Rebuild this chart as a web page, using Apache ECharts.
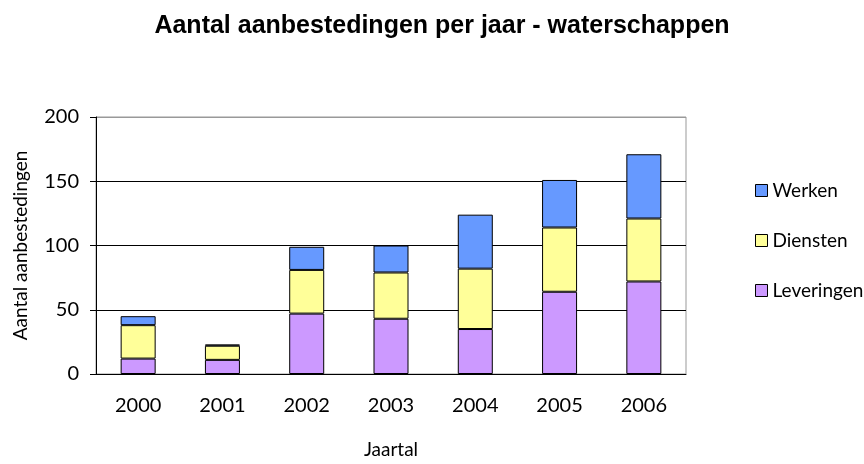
<!DOCTYPE html>
<html>
<head>
<meta charset="utf-8">
<script src="https://cdn.jsdelivr.net/npm/echarts@6/dist/echarts.min.js"></script>
<style>
  html, body { margin: 0; padding: 0; background: #fff; }
  #chart { width: 864px; height: 464px; }
</style>
</head>
<body>
<div id="chart"></div>
<script>
const years = ['2000', '2001', '2002', '2003', '2004', '2005', '2006']
const leveringen = [12, 11, 47, 43, 35, 64, 72]
const diensten = [26, 11, 34, 36, 47, 50, 49]
const werken = [7, 1, 18, 21, 42, 37, 50]
const yTicks = [0, 50, 100, 150, 200]

const FONT = 'Lato'

var chart = echarts.init(document.getElementById('chart'))

function barSeries(name, data, color){
    return {
        name: name,
        type: 'bar',
        stack: 'totaal',
        data: data,
        barWidth: 35,
        itemStyle: { color: color, borderColor: '#000', borderWidth: 1 },
        emphasis: { disabled: true }
    }
}

const option = {
    animation: false,
    title: {
        text: 'Aantal aanbestedingen per jaar - waterschappen',
        left: 437,
        textAlign: 'center',
        top: 9,
        textStyle: { fontFamily: 'Liberation Sans', fontWeight: 'bold', fontSize: 25, color: '#000' }
    },
    legend: {
        orient: 'vertical',
        left: 750,
        top: 176,
        itemWidth: 12,
        itemHeight: 12,
        itemGap: 31,
        icon: 'rect',
        data: ['Werken', 'Diensten', 'Leveringen'],
        textStyle: { fontFamily: FONT, fontSize: 19, color: '#000' },
        itemStyle: { borderColor: '#000', borderWidth: 1 }
    },
    grid: {
        left: 96, right: 178, top: 117, bottom: 86,
        show: true, borderColor: '#999', borderWidth: 1
    },
    xAxis: {
        type: 'category',
        data: years,
        name: 'Jaartal',
        nameLocation: 'middle',
        nameGap: 66,
        nameTextStyle: { fontFamily: FONT, fontSize: 19, color: '#000' },
        axisLine: { lineStyle: { color: '#000', width: 1 } },
        axisTick: { length: 6, lineStyle: { color: '#000' } },
        axisLabel: { fontFamily: FONT, fontSize: 20, color: '#000', margin: 22 }
    },
    yAxis: {
        type: 'value',
        min: yTicks[0],
        max: yTicks[yTicks.length - 1],
        interval: 50,
        name: 'Aantal aanbestedingen',
        nameLocation: 'middle',
        nameGap: 66,
        nameTextStyle: { fontFamily: FONT, fontSize: 19, color: '#000' },
        axisLine: { show: true, lineStyle: { color: '#000', width: 1 } },
        axisTick: { show: true, length: 6, lineStyle: { color: '#000' } },
        axisLabel: { fontFamily: FONT, fontSize: 20, color: '#000', margin: 17 },
        splitLine: { lineStyle: { color: ['#000', '#000', '#000', '#000', '#999'], width: 1 } }
    },
    series: [
        barSeries('Leveringen', leveringen, '#cc99ff'),
        barSeries('Diensten', diensten, '#ffff99'),
        barSeries('Werken', werken, '#6699ff')
    ]
}
chart.setOption(option)
</script>
</body>
</html>
